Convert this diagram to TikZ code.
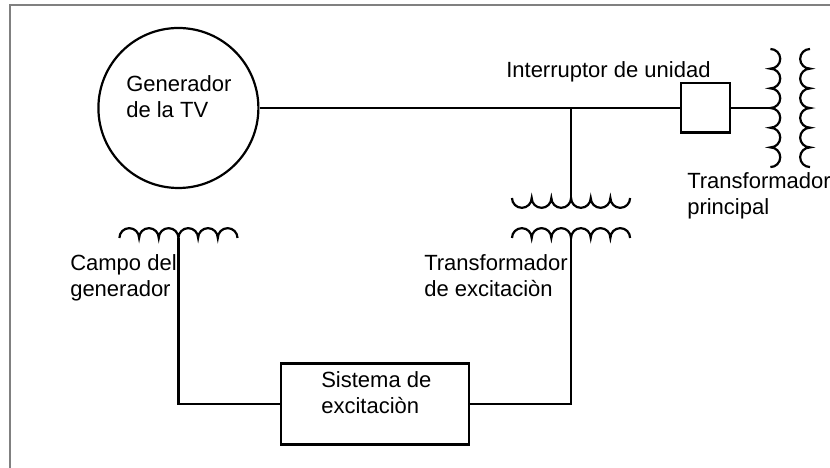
\documentclass[tikz,border=0pt]{standalone}
\usepackage{fontspec}
\setmainfont{Liberation Sans}
\usepackage{pgf, tikz}

\tikzset{
  cable/.style={line width=0.055cm, line join=miter},
  texto/.style={anchor=base west, align=left, inner sep=0pt, font=\fontsize{15.65}{18.6}\selectfont},
  marco/.style={line width=0.04cm, draw=black!50}
}

\begin{document}
\begin{tikzpicture}
\useasboundingbox (0, 0) rectangle (20.75, 11.7);
\coordinate (m0) at (0.25, 0);
\coordinate (m1) at (0.25, 11.575);
\coordinate (m2) at (20.75, 11.575);
\draw[marco] (m0) -- (m1) -- (m2);

\path (4.46, 9) node[circle, draw, cable, minimum size=4cm, inner sep=0pt] (gen) {}
      (17.64, 9) node[rectangle, draw, cable, minimum size=1.23cm, inner sep=0pt] (interruptor) {}
      (9.375, 1.6) node[rectangle, draw, cable, minimum width=4.7cm, minimum height=2.025cm, inner sep=0pt] (sistema) {};

\path (3.15, 8.75) node[texto] (tgen) {Generador\\de la TV}
      (12.65, 9.75) node[texto] (tint) {Interruptor de unidad}
      (17.175, 6.325) node[texto] (tprin) {Transformador\\principal}
      (10.6, 4.29) node[texto] (texc) {Transformador\\de excitaciòn}
      (1.75, 4.29) node[texto] (tcampo) {Campo del\\generador}
      (8.025, 1.35) node[texto] (tsis) {Sistema de\\excitaciòn};

\coordinate (tap1) at (19.26, 9);
\coordinate (union) at (14.275, 9);
\coordinate (tap2) at (14.275, 6.75);
\coordinate (tap3) at (14.275, 5.75);
\coordinate (tap4) at (4.46, 5.75);

% bobinas
\draw[cable] (19.26, 10.475) \foreach \i in {1,...,6} {arc (90:-90:0.246)};
\draw[cable] (20.25, 10.475) \foreach \i in {1,...,6} {arc (90:270:0.246)};
\draw[cable] (12.8, 6.75) \foreach \i in {1,...,6} {arc (180:360:0.246)};
\draw[cable] (12.8, 5.75) \foreach \i in {1,...,6} {arc (180:0:0.246)};
\draw[cable] (2.985, 5.75) \foreach \i in {1,...,6} {arc (180:0:0.246)};

\draw[cable] (gen) to (interruptor);
\draw[cable] (interruptor) to (tap1);
\draw[cable] (union) to (tap2);
\draw[cable] (tap3) |- (sistema);
\draw[cable] (tap4) |- (sistema);

\end{tikzpicture}
\end{document}
